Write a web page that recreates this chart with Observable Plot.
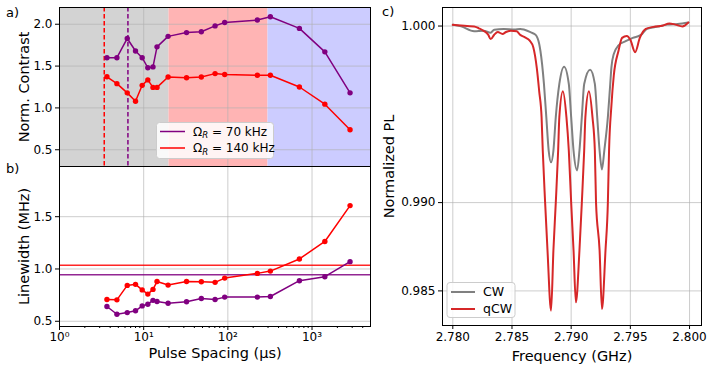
<!DOCTYPE html>
<html><head><meta charset="utf-8">
<script src="https://cdn.jsdelivr.net/npm/d3@7"></script>
<script src="https://cdn.jsdelivr.net/npm/@observablehq/plot@0.6"></script>
<style>
body{margin:0;background:#fff;}
#root{position:relative;width:713px;height:370px;font-family:"DejaVu Sans",sans-serif;overflow:hidden;background:#fff;}
#root > div{position:absolute;}
</style></head>
<body><div id="root"></div>
<script>
// ---------- data: panels a & b ----------
const spacing      = [3.66, 4.81, 6.38, 8.0, 9.6, 11.2, 12.9, 14.4, 19.5, 32.3, 48.4, 70.5, 91.7, 224, 320, 708, 1420, 2830];
const contrast70   = [1.60, 1.60, 1.83, 1.68, 1.60, 1.48, 1.49, 1.73, 1.855, 1.90, 1.91, 1.98, 2.02, 2.05, 2.09, 1.95, 1.67, 1.18];
const contrast140  = [1.372, 1.29, 1.18, 1.08, 1.27, 1.335, 1.245, 1.245, 1.37, 1.36, 1.37, 1.41, 1.40, 1.39, 1.39, 1.25, 1.045, 0.74];
const linewidth70  = [0.641, 0.567, 0.583, 0.60, 0.647, 0.663, 0.70, 0.689, 0.673, 0.686, 0.718, 0.708, 0.731, 0.731, 0.737, 0.888, 0.926, 1.07];
const linewidth140 = [0.708, 0.705, 0.843, 0.853, 0.80, 0.76, 0.805, 0.88, 0.846, 0.88, 0.878, 0.872, 0.913, 0.958, 0.98, 1.096, 1.263, 1.606];
const cwLinewidth  = [0.946, 1.035];          // 70 kHz, 140 kHz
const cwColors     = ["purple", "red"];
const rabiSpacing  = [3.4, 6.5];              // dashed markers
const rabiColors   = ["red", "purple"];
const regionStart  = [1, 20, 300];
const regionEnd    = [20, 300, 4950];
const regionColor  = ["#d3d3d3", "#ffb4b4", "#ccccff"];
const yTicksA = [0.5, 1.0, 1.5, 2.0];
const yTicksB = [0.5, 1.0, 1.5];
const xTicksB = [1, 10, 100, 1000];
const xTickLabelsB = ["10\u2070", "10\u00B9", "10\u00B2", "10\u00B3"];

// ---------- data: panel c ----------
const freqCW = [2.7800,2.7807,2.7818,2.7826,2.7832,2.7835,2.7843,2.7852,2.7857,2.7860,2.7866,2.7870,2.7873,2.7874,2.7877,2.7879,2.7881,2.7883,2.7885,2.7887,2.7890,2.7894,2.7898,2.7900,2.7902,2.7905,2.7907,2.7909,2.7911,2.7916,2.7920,2.7922,2.7924,2.7926,2.7928,2.7931,2.7933,2.7934,2.7936,2.7940,2.7946,2.7952,2.7959,2.7964,2.7973,2.7981,2.7990,2.7999];
const plCW   = [1.00007,0.99998,0.99970,0.99973,0.99962,0.99979,0.99983,0.99980,0.99983,0.99980,0.99964,0.99950,0.99898,0.99860,0.99672,0.99484,0.99295,0.99229,0.99295,0.99484,0.99672,0.99770,0.99672,0.99484,0.99295,0.99182,0.99295,0.99484,0.99672,0.99753,0.99672,0.99484,0.99295,0.99188,0.99295,0.99484,0.99672,0.99766,0.99842,0.99890,0.99914,0.99933,0.99950,0.99984,0.99997,1.00008,1.00012,1.00020];
const freqQCW = [2.7800,2.7812,2.7818,2.7822,2.7826,2.7830,2.7832,2.7835,2.7838,2.7842,2.7845,2.7849,2.7854,2.7857,2.7861,2.7865,2.7868,2.7871,2.7873,2.7875,2.7876,2.7878,2.7880,2.7883,2.7885,2.7887,2.7889,2.7890,2.7893,2.7896,2.7898,2.7900,2.7902,2.7904,2.7907,2.7909,2.7911,2.7912,2.7915,2.7918,2.7920,2.7921,2.7924,2.7926,2.7929,2.7931,2.7932,2.7934,2.7936,2.7940,2.7943,2.7947,2.7950,2.7954,2.7958,2.7963,2.7971,2.7977,2.7983,2.7988,2.7994,2.7999];
const plQCW   = [1.00007,1.00000,0.99998,0.99987,0.99973,0.99950,0.99926,0.99951,0.99966,0.99955,0.99966,0.99973,0.99970,0.99950,0.99936,0.99917,0.99880,0.99760,0.99630,0.99484,0.99295,0.99000,0.98730,0.98388,0.98730,0.99000,0.99295,0.99484,0.99631,0.99484,0.99295,0.99000,0.98730,0.98435,0.98730,0.99000,0.99295,0.99484,0.99631,0.99484,0.99295,0.99000,0.98730,0.98397,0.98730,0.99000,0.99295,0.99550,0.99720,0.99860,0.99933,0.99944,0.99922,0.99852,0.99933,0.99984,0.99997,1.00002,1.00015,1.00008,0.99998,1.00020];
const xTicksC = [2.780, 2.785, 2.790, 2.795, 2.800];
const yTicksC = [0.985, 0.990, 1.000];

// ---------- helpers ----------
const root = document.getElementById("root");
function place(el, left, top) {
  const d = document.createElement("div");
  d.style.left = left + "px"; d.style.top = top + "px";
  d.appendChild(el); root.appendChild(d);
}
const baseStyle = {background: "transparent", overflow: "visible", fontFamily: "'DejaVu Sans', sans-serif", fontSize: "12px", color: "#000"};
const gridStyle = {stroke: "#b0b0b0", strokeOpacity: 0.7, strokeWidth: 0.9};
const labelStyle = {text: d => d, textAnchor: "middle", lineAnchor: "middle", fontSize: 14.5};
const regions = regionStart.map((s, i) => ({start: s, end: regionEnd[i], color: regionColor[i]}));
const minorTicks = d3.range(0, 4).flatMap(e => d3.range(2, 10).map(m => m * 10 ** e)).filter(v => v < 4950);

// ---------- panel a ----------
const pa = Plot.plot({
  width: 380, height: 166, marginLeft: 59, marginRight: 10, marginTop: 7, marginBottom: 0,
  style: baseStyle,
  x: {type: "log", domain: [1, 4950], axis: null},
  y: {domain: [0.3, 2.2]},
  color: {type: "identity"},
  marks: [
    Plot.rect(regions, {x1: "start", x2: "end", fill: "color"}),
    Plot.ruleX(xTicksB, gridStyle),
    Plot.ruleY(yTicksA, gridStyle),
    Plot.ruleX(rabiSpacing, {stroke: (d, i) => rabiColors[i], strokeWidth: 1.5, strokeDasharray: "4.5,2.5"}),
    Plot.line(spacing, {x: d => d, y: (d, i) => contrast70[i], stroke: "purple", strokeWidth: 1.5}),
    Plot.dot(spacing, {x: d => d, y: (d, i) => contrast70[i], fill: "purple", r: 2.7}),
    Plot.line(spacing, {x: d => d, y: (d, i) => contrast140[i], stroke: "red", strokeWidth: 1.5}),
    Plot.dot(spacing, {x: d => d, y: (d, i) => contrast140[i], fill: "red", r: 2.7}),
    Plot.axisY({ticks: yTicksA, tickFormat: d3.format(".1f"), tickSize: 4, tickPadding: 3, label: null}),
    Plot.text(["Norm. Contrast"], {...labelStyle, frameAnchor: "left", dx: -35, rotate: -90}),
    Plot.frame({stroke: "black", strokeWidth: 1})
  ]
});
place(pa, 0, 0);

// ---------- panel b ----------
const pb = Plot.plot({
  width: 380, height: 204, marginLeft: 59, marginRight: 10, marginTop: 0, marginBottom: 44,
  style: baseStyle,
  x: {type: "log", domain: [1, 4950]},
  y: {domain: [0.45, 1.98]},
  marks: [
    Plot.ruleX(xTicksB, gridStyle),
    Plot.ruleY(yTicksB, gridStyle),
    Plot.ruleY(cwLinewidth, {stroke: (d, i) => cwColors[i], strokeWidth: 1.5, strokeOpacity: 0.85}),
    Plot.line(spacing, {x: d => d, y: (d, i) => linewidth140[i], stroke: "red", strokeWidth: 1.5}),
    Plot.dot(spacing, {x: d => d, y: (d, i) => linewidth140[i], fill: "red", r: 2.7}),
    Plot.line(spacing, {x: d => d, y: (d, i) => linewidth70[i], stroke: "purple", strokeWidth: 1.5}),
    Plot.dot(spacing, {x: d => d, y: (d, i) => linewidth70[i], fill: "purple", r: 2.7}),
    Plot.axisY({ticks: yTicksB, tickFormat: d3.format(".1f"), tickSize: 4, tickPadding: 3, label: null}),
    Plot.axisX({ticks: xTicksB, tickFormat: d => xTickLabelsB[xTicksB.indexOf(d)], tickSize: 4, tickPadding: 2, label: null}),
    Plot.axisX({ticks: minorTicks, tickFormat: () => "", tickSize: 2, label: null}),
    Plot.text(["Linewidth (MHz)"], {...labelStyle, frameAnchor: "left", dx: -35, rotate: -90}),
    Plot.text(["Pulse Spacing (\u00B5s)"], {...labelStyle, frameAnchor: "bottom", dy: 27}),
    Plot.frame({stroke: "black", strokeWidth: 1})
  ]
});
place(pb, 0, 166);

// ---------- panel c ----------
const pc = Plot.plot({
  width: 333, height: 370, marginLeft: 62, marginRight: 12, marginTop: 7, marginBottom: 45,
  style: baseStyle,
  x: {domain: [2.77913, 2.80101]},
  y: {domain: [0.98304, 1.00105]},
  marks: [
    Plot.ruleX(xTicksC, gridStyle),
    Plot.ruleY(yTicksC, gridStyle),
    Plot.line(freqCW, {x: d => d, y: (d, i) => plCW[i], stroke: "#808080", strokeWidth: 2, curve: "monotone-x"}),
    Plot.line(freqQCW, {x: d => d, y: (d, i) => plQCW[i], stroke: "#d62728", strokeWidth: 2, curve: "monotone-x"}),
    Plot.axisY({ticks: yTicksC, tickFormat: d3.format(".3f"), tickSize: 4, tickPadding: 3, label: null}),
    Plot.axisX({ticks: xTicksC, tickFormat: d3.format(".3f"), tickSize: 4, tickPadding: 3, label: null}),
    Plot.text(["Normalized PL"], {...labelStyle, frameAnchor: "left", dx: -53, rotate: -90}),
    Plot.text(["Frequency (GHz)"], {...labelStyle, frameAnchor: "bottom", dy: 30.5}),
    Plot.frame({stroke: "black", strokeWidth: 1})
  ]
});
place(pc, 380, 0);

// ---------- overlay: panel letters and legends ----------
const ns = "http://www.w3.org/2000/svg";
const ov = document.createElementNS(ns, "svg");
ov.setAttribute("width", 713); ov.setAttribute("height", 370);
ov.style.cssText = "position:absolute;left:0;top:0;pointer-events:none;font-family:'DejaVu Sans',sans-serif;";
ov.innerHTML = `
  <text x="6" y="17" font-size="13">a)</text>
  <text x="6" y="173" font-size="13">b)</text>
  <text x="382" y="16" font-size="13">c)</text>
  <rect x="156.5" y="122.5" width="117" height="36" rx="3" fill="white" fill-opacity="0.85" stroke="#cccccc"/>
  <line x1="160" x2="185" y1="131.5" y2="131.5" stroke="purple" stroke-width="1.5"/>
  <line x1="160" x2="185" y1="148" y2="148" stroke="red" stroke-width="1.5"/>
  <text x="193" y="135.8" font-size="12">Ω<tspan font-size="8.5" font-style="italic" dy="2.5">R</tspan><tspan dy="-2.5"> = 70 kHz</tspan></text>
  <text x="193" y="152.3" font-size="12">Ω<tspan font-size="8.5" font-style="italic" dy="2.5">R</tspan><tspan dy="-2.5"> = 140 kHz</tspan></text>
  <rect x="447" y="282.5" width="68" height="35" rx="3" fill="white" fill-opacity="0.85" stroke="#cccccc"/>
  <line x1="451" x2="475" y1="292" y2="292" stroke="#808080" stroke-width="2"/>
  <line x1="451" x2="475" y1="309" y2="309" stroke="#d62728" stroke-width="2"/>
  <text x="483" y="296.3" font-size="12.5">CW</text>
  <text x="483" y="313.3" font-size="12.5">qCW</text>
`;
root.appendChild(ov);
</script>
</body></html>
